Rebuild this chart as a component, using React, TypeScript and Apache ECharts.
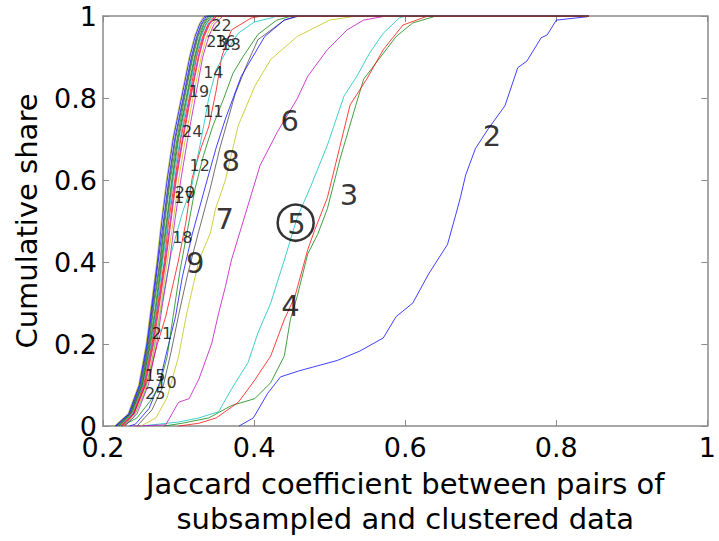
import React, { useEffect, useRef } from "react";
import * as echarts from "echarts";

const FONT = "DejaVu Sans";

// MATLAB default colour order
const COLORS = ["#0000ff", "#008000", "#ff0000", "#00bfbf", "#bf00bf", "#bfbf00", "#404040"];

// Series ids (drawn in this order)
const SERIES_IDS = [2, 3, 4, 5, 6, 7, 8, 9, 10, 11, 12, 13, 14, 15, 16, 17, 18, 19, 20, 21, 22, 23, 24, 25];

const s2 = [[0.38,0],[0.399,0.02],[0.418,0.08],[0.435,0.12],[0.46,0.135],[0.484,0.147],[0.51,0.16],[0.54,0.183],[0.571,0.215],[0.588,0.267],[0.61,0.3],[0.631,0.371],[0.656,0.443],[0.667,0.516],[0.673,0.557],[0.68,0.612],[0.693,0.677],[0.71,0.725],[0.732,0.781],[0.749,0.874],[0.761,0.89],[0.78,0.947],[0.788,0.954],[0.8,0.99],[0.84,0.998],[0.843,1]];
const s3 = [[0.28,0],[0.305,0.007],[0.34,0.02],[0.37,0.05],[0.401,0.067],[0.422,0.106],[0.44,0.171],[0.448,0.26],[0.457,0.316],[0.471,0.42],[0.484,0.467],[0.497,0.53],[0.514,0.653],[0.532,0.766],[0.545,0.846],[0.562,0.887],[0.588,0.95],[0.61,0.983],[0.641,1],[0.843,1]];
const s4 = [[0.3,0],[0.327,0.007],[0.35,0.02],[0.379,0.058],[0.4,0.11],[0.422,0.171],[0.44,0.26],[0.454,0.316],[0.471,0.43],[0.48,0.477],[0.497,0.557],[0.514,0.685],[0.527,0.783],[0.549,0.846],[0.571,0.918],[0.597,0.978],[0.627,0.998],[0.635,1],[0.843,1]];
const s5 = [[0.25,0],[0.3,0.01],[0.327,0.02],[0.353,0.035],[0.37,0.09],[0.392,0.155],[0.405,0.227],[0.422,0.3],[0.44,0.405],[0.457,0.508],[0.475,0.585],[0.497,0.685],[0.519,0.805],[0.536,0.853],[0.553,0.91],[0.571,0.958],[0.592,0.995],[0.6,1],[0.843,1]];
const s6 = [[0.24,0],[0.283,0.003],[0.3,0.058],[0.314,0.067],[0.327,0.115],[0.344,0.202],[0.353,0.275],[0.362,0.34],[0.37,0.405],[0.383,0.484],[0.408,0.636],[0.431,0.718],[0.457,0.798],[0.471,0.853],[0.497,0.918],[0.523,0.966],[0.545,0.99],[0.575,1],[0.843,1]];
const s7 = [[0.25,0],[0.27,0.02],[0.285,0.07],[0.3,0.17],[0.31,0.267],[0.327,0.405],[0.342,0.47],[0.349,0.53],[0.362,0.6],[0.379,0.733],[0.401,0.829],[0.422,0.894],[0.457,0.95],[0.5,0.99],[0.536,1],[0.843,1]];
const s8 = [[0.245,0],[0.265,0.04],[0.28,0.1],[0.29,0.18],[0.3,0.27],[0.312,0.37],[0.326,0.47],[0.342,0.58],[0.355,0.68],[0.375,0.81],[0.39,0.88],[0.405,0.942],[0.44,0.99],[0.46,1],[0.843,1]];
const s9 = [[0.235,0],[0.243,0.005],[0.261,0.043],[0.275,0.106],[0.283,0.171],[0.296,0.267],[0.305,0.364],[0.318,0.467],[0.336,0.588],[0.35,0.68],[0.362,0.749],[0.383,0.853],[0.414,0.95],[0.44,0.99],[0.457,1],[0.843,1]];
const s10 = [[0.225,0],[0.245,0.02],[0.262,0.06],[0.275,0.1],[0.285,0.17],[0.293,0.27],[0.302,0.38],[0.312,0.48],[0.322,0.58],[0.333,0.66],[0.345,0.73],[0.36,0.8],[0.372,0.86],[0.385,0.9],[0.405,0.955],[0.43,0.99],[0.45,1],[0.843,1]];
const s11 = [[0.228,0],[0.239,0.026],[0.25,0.07],[0.261,0.122],[0.272,0.2],[0.283,0.267],[0.3,0.405],[0.31,0.5],[0.318,0.605],[0.33,0.68],[0.34,0.73],[0.35,0.82],[0.357,0.9],[0.37,0.966],[0.396,0.995],[0.41,1],[0.843,1]];
const s12 = [[0.225,0],[0.24,0.02],[0.255,0.08],[0.265,0.16],[0.278,0.3],[0.29,0.42],[0.305,0.52],[0.318,0.59],[0.33,0.7],[0.34,0.8],[0.35,0.87],[0.362,0.91],[0.379,0.958],[0.4,0.985],[0.422,0.995],[0.43,1],[0.843,1]];
const s13 = [[0.229,0],[0.245,0.03],[0.26,0.1],[0.271,0.2],[0.279,0.3],[0.288,0.4],[0.295,0.5],[0.303,0.6],[0.312,0.7],[0.322,0.8],[0.332,0.9],[0.34,0.95],[0.347,0.98],[0.359,1],[0.843,1]];
const s14 = [[0.227,0],[0.243,0.03],[0.258,0.1],[0.269,0.2],[0.277,0.3],[0.285,0.4],[0.293,0.5],[0.3,0.6],[0.309,0.7],[0.319,0.8],[0.33,0.9],[0.337,0.95],[0.344,0.98],[0.355,1],[0.843,1]];
const s15 = [[0.221,0],[0.238,0.03],[0.252,0.1],[0.263,0.2],[0.271,0.3],[0.278,0.4],[0.285,0.5],[0.292,0.6],[0.3,0.7],[0.311,0.8],[0.322,0.9],[0.329,0.95],[0.336,0.98],[0.344,1],[0.843,1]];
const s16 = [[0.217,0],[0.235,0.03],[0.249,0.1],[0.259,0.2],[0.266,0.3],[0.273,0.4],[0.28,0.5],[0.287,0.6],[0.295,0.7],[0.306,0.8],[0.317,0.9],[0.324,0.95],[0.33,0.98],[0.337,1],[0.843,1]];
const s17 = [[0.219,0],[0.236,0.03],[0.251,0.1],[0.261,0.2],[0.268,0.3],[0.276,0.4],[0.282,0.5],[0.289,0.6],[0.298,0.7],[0.308,0.8],[0.319,0.9],[0.326,0.95],[0.333,0.98],[0.34,1],[0.843,1]];
const s18 = [[0.225,0],[0.241,0.03],[0.256,0.1],[0.267,0.2],[0.275,0.3],[0.283,0.4],[0.29,0.5],[0.297,0.6],[0.306,0.7],[0.316,0.8],[0.327,0.9],[0.334,0.95],[0.341,0.98],[0.351,1],[0.843,1]];
const s19 = [[0.222,0],[0.239,0.03],[0.253,0.1],[0.264,0.2],[0.272,0.3],[0.279,0.4],[0.286,0.5],[0.293,0.6],[0.302,0.7],[0.312,0.8],[0.323,0.9],[0.33,0.95],[0.337,0.98],[0.346,1],[0.843,1]];
const s20 = [[0.224,0],[0.241,0.03],[0.255,0.1],[0.266,0.2],[0.274,0.3],[0.282,0.4],[0.289,0.5],[0.296,0.6],[0.305,0.7],[0.315,0.8],[0.326,0.9],[0.333,0.95],[0.34,0.98],[0.35,1],[0.843,1]];
const s21 = [[0.215,0],[0.233,0.03],[0.247,0.1],[0.257,0.2],[0.264,0.3],[0.271,0.4],[0.277,0.5],[0.284,0.6],[0.292,0.7],[0.303,0.8],[0.314,0.9],[0.321,0.95],[0.327,0.98],[0.333,1],[0.843,1]];
const s22 = [[0.218,0],[0.236,0.03],[0.25,0.1],[0.26,0.2],[0.267,0.3],[0.275,0.4],[0.281,0.5],[0.288,0.6],[0.296,0.7],[0.307,0.8],[0.318,0.9],[0.325,0.95],[0.331,0.98],[0.339,1],[0.843,1]];
const s23 = [[0.216,0],[0.234,0.03],[0.248,0.1],[0.258,0.2],[0.265,0.3],[0.272,0.4],[0.278,0.5],[0.285,0.6],[0.293,0.7],[0.304,0.8],[0.315,0.9],[0.322,0.95],[0.328,0.98],[0.335,1],[0.843,1]];
const s24 = [[0.22,0],[0.237,0.03],[0.252,0.1],[0.262,0.2],[0.27,0.3],[0.277,0.4],[0.284,0.5],[0.291,0.6],[0.299,0.7],[0.31,0.8],[0.321,0.9],[0.328,0.95],[0.334,0.98],[0.342,1],[0.843,1]];
const s25 = [[0.223,0],[0.24,0.03],[0.254,0.1],[0.265,0.2],[0.273,0.3],[0.281,0.4],[0.287,0.5],[0.295,0.6],[0.303,0.7],[0.314,0.8],[0.324,0.9],[0.332,0.95],[0.339,0.98],[0.348,1],[0.843,1]];

const SERIES_DATA = [s2, s3, s4, s5, s6, s7, s8, s9, s10, s11, s12, s13, s14, s15, s16, s17, s18, s19, s20, s21, s22, s23, s24, s25];

// Curve labels
const BIG_LABELS = ["2", "3", "4", "5", "6", "7", "8", "9"];
const BIG_X = [0.715, 0.5255, 0.448, 0.456, 0.447, 0.361, 0.369, 0.322];
const BIG_Y = [0.708, 0.564, 0.294, 0.492, 0.745, 0.504, 0.646, 0.398];

const SMALL_LABELS = ["11", "12", "14", "19", "24", "22", "23", "16", "13", "20", "17", "18", "21", "15", "10", "25"];
const SMALL_X = [0.346, 0.328, 0.346, 0.327, 0.318, 0.357, 0.35, 0.362, 0.369, 0.3085, 0.307, 0.305, 0.278, 0.269, 0.284, 0.269];
const SMALL_Y = [0.766, 0.636, 0.863, 0.817, 0.718, 0.978, 0.937, 0.937, 0.93, 0.569, 0.557, 0.46, 0.2265, 0.123, 0.106, 0.0795];

const CIRCLE_POINT = [0.455, 0.496];

const X_TITLE = "Jaccard coefficient between pairs of\nsubsampled and clustered data";
const Y_TITLE = "Cumulative share";

export default function App() {
  const ref = useRef<HTMLDivElement>(null);
  useEffect(() => {
    if (!ref.current) return;
    const chart = echarts.init(ref.current, undefined, { renderer: "svg" });
    const axisLineStyle = { color: "#8a8a8a", width: 1.5 };
    const baseAxis = {
      type: "value",
      min: 0,
      max: 1,
      interval: 0.2,
      splitLine: { show: false },
      axisLine: { show: true, onZero: false, lineStyle: axisLineStyle },
      axisTick: { show: true, inside: true, length: 6, lineStyle: { color: "#8a8a8a", width: 1 } },
    };
    const lineSeries = SERIES_IDS.map((id, i) => ({
      type: "line",
      name: String(id),
      data: SERIES_DATA[i],
      showSymbol: false,
      symbol: "none",
      silent: true,
      lineStyle: { width: 1, color: COLORS[i % COLORS.length], opacity: 0.75 },
      z: 2,
    }));
    const option = {
      animation: false,
      grid: { left: 103, top: 16, width: 612, height: 415, containLabel: false },
      xAxis: [
        {
          ...baseAxis,
          min: 0.2,
          position: "bottom",
          axisLabel: { fontSize: 27, color: "#000", fontFamily: FONT, margin: 8, showMinLabel: true, showMaxLabel: true },
          name: X_TITLE,
          nameLocation: "middle",
          nameGap: 37,
          nameTextStyle: { fontSize: 29, lineHeight: 35, color: "#000", fontFamily: FONT },
        },
        { ...baseAxis, min: 0.2, position: "top", axisLabel: { show: false } },
      ],
      yAxis: [
        {
          ...baseAxis,
          position: "left",
          axisLabel: { fontSize: 27, color: "#000", fontFamily: FONT, margin: 6, showMinLabel: true, showMaxLabel: true },
          name: Y_TITLE,
          nameLocation: "middle",
          nameGap: 62,
          nameTextStyle: { fontSize: 29, color: "#000", fontFamily: FONT },
        },
        { ...baseAxis, position: "right", axisLabel: { show: false } },
      ],
      series: [
        ...lineSeries,
        {
          type: "scatter",
          data: BIG_LABELS.map((n, i) => ({ name: n, value: [BIG_X[i], BIG_Y[i]] })),
          symbolSize: 0,
          silent: true,
          z: 5,
          label: { show: true, position: "inside", formatter: "{b}", fontSize: 29, color: "#000", fontFamily: FONT },
        },
        {
          type: "scatter",
          data: SMALL_LABELS.map((n, i) => ({ name: n, value: [SMALL_X[i], SMALL_Y[i]] })),
          symbolSize: 0,
          silent: true,
          z: 5,
          label: { show: true, position: "inside", formatter: "{b}", fontSize: 16, color: "#000", fontFamily: FONT },
        },
        {
          type: "scatter",
          data: [CIRCLE_POINT],
          symbol: "circle",
          symbolSize: 36,
          silent: true,
          z: 6,
          itemStyle: { color: "rgba(0,0,0,0)", borderColor: "#000", borderWidth: 2.5 },
        },
      ],
    };
    chart.setOption(option as any);
    return () => chart.dispose();
  }, []);
  return <div ref={ref} style={{ position: "absolute", left: 0, top: 0, width: 719, height: 541, background: "#fff" }} />;
}
